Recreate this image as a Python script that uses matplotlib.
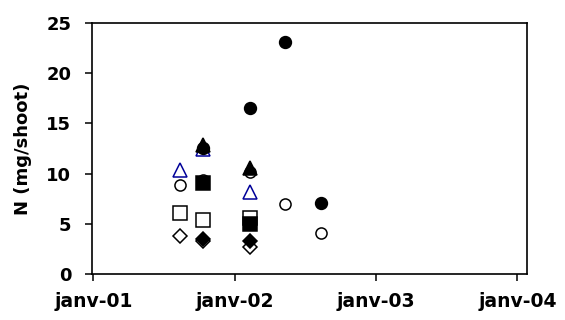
import numpy as np
import pandas as pd
import matplotlib
matplotlib.use('Agg')
import matplotlib.pyplot as plt
import matplotlib.dates as mdates

# sampling dates
d1 = '2001-08-13'
d2 = '2001-10-12'
d3 = '2002-02-10'
d4 = '2002-05-12'
d5 = '2002-08-13'

# filled circles
fc_dates = [d2, d3, d4, d5]
fc_vals = [12.5, 16.5, 23.1, 7.05]
# open circles
oc_dates = [d1, d2, d3, d4, d5]
oc_vals = [8.9, 9.4, 10.2, 7.0, 4.1]
# open triangles (blue)
ot_dates = [d1, d2, d3]
ot_vals = [10.4, 12.4, 8.15]
# filled triangles
ft_dates = [d2, d3]
ft_vals = [12.8, 10.6]
# open squares
os_dates = [d1, d2, d3]
os_vals = [6.05, 5.4, 5.6]
# filled squares
fs_dates = [d2, d3]
fs_vals = [9.05, 5.0]
# open diamonds
od_dates = [d1, d2, d3]
od_vals = [3.8, 3.35, 2.7]
# filled diamonds
fd_dates = [d2, d3]
fd_vals = [3.5, 3.3]

tick_dates = ['2001-01-01', '2002-01-01', '2003-01-01', '2004-01-01']
tick_labels = ['janv-01', 'janv-02', 'janv-03', 'janv-04']

plt.rcParams['font.family'] = ['DejaVu Sans']
plt.rcParams['font.weight'] = 'bold'

fig = plt.figure(figsize=(5.65, 3.2), dpi=100)
ax = fig.add_axes([0.163, 0.143, 0.770, 0.786])

def dt(lst):
    return pd.to_datetime(lst)

ax.plot(dt(ot_dates), ot_vals, '^', ms=10.5, mfc='white', mec='#000099', mew=1.1, ls='none')
ax.plot(dt(oc_dates), oc_vals, 'o', ms=8, mfc='white', mec='black', mew=1.1, ls='none')
ax.plot(dt(os_dates), os_vals, 's', ms=9.5, mfc='white', mec='black', mew=1.1, ls='none')
ax.plot(dt(od_dates), od_vals, 'D', ms=7.5, mfc='white', mec='black', mew=1.1, ls='none')
ax.plot(dt(ft_dates), ft_vals, '^', ms=10.5, mfc='black', mec='black', mew=1.1, ls='none')
ax.plot(dt(fs_dates), fs_vals, 's', ms=10.5, mfc='black', mec='black', mew=1.1, ls='none')
ax.plot(dt(fd_dates), fd_vals, 'D', ms=7.5, mfc='black', mec='black', mew=1.1, ls='none')
ax.plot(dt(fc_dates), fc_vals, 'o', ms=8.5, mfc='black', mec='black', mew=1.1, ls='none')

ax.set_xlim(pd.Timestamp('2000-12-29'), pd.Timestamp('2004-01-26'))
ax.set_ylim(0, 25)
ax.set_xticks(dt(tick_dates))
ax.set_xticklabels(tick_labels)
ax.set_yticks([0, 5, 10, 15, 20, 25])

for s in ax.spines.values():
    s.set_linewidth(1.2)
    s.set_color('black')

ax.tick_params(axis='both', direction='out', length=5, width=1.1, labelsize=13)
ax.tick_params(axis='y', pad=10)
ax.tick_params(axis='x', pad=8, labelsize=13.5)
ax.set_ylabel('N (mg/shoot)', fontsize=13, fontweight='bold', labelpad=10)

fig.savefig('out.png', dpi=100)
